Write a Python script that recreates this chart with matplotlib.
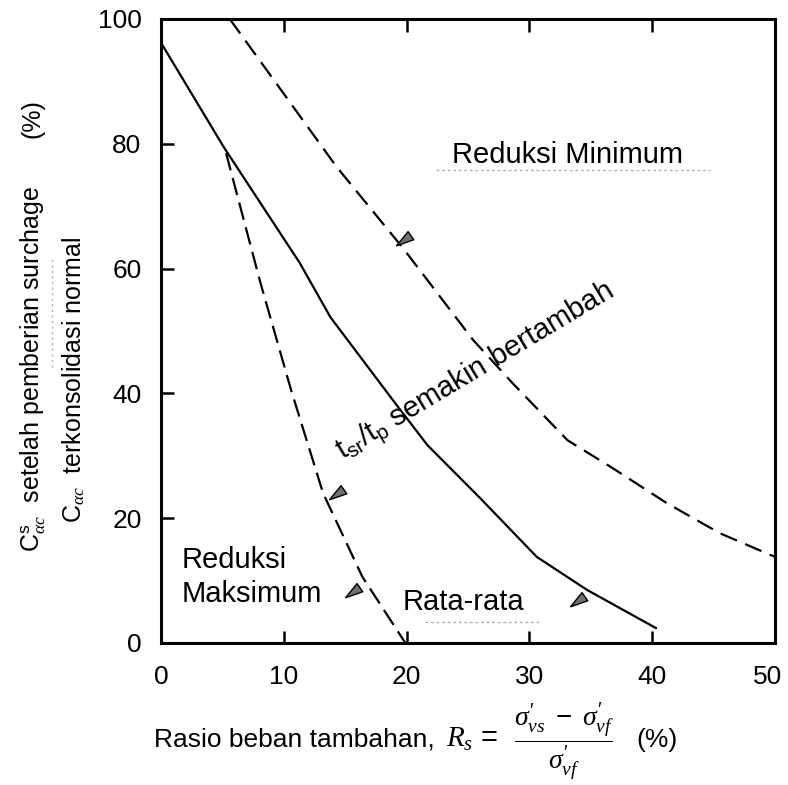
import numpy as np
import matplotlib
matplotlib.use("Agg")
import matplotlib.pyplot as plt
import matplotlib.transforms as mtransforms

plt.rcParams['font.family'] = ['Liberation Sans', 'DejaVu Sans']
plt.rcParams['mathtext.fontset'] = 'custom'
plt.rcParams['mathtext.rm'] = 'Liberation Sans'
plt.rcParams['mathtext.sf'] = 'Liberation Sans'
plt.rcParams['mathtext.it'] = 'Liberation Serif:italic'
plt.rcParams['mathtext.bf'] = 'Liberation Sans:bold'

# ---- data ----
rata_x = [0, 5.1, 11.3, 13.8, 19.2, 21.7, 26.0, 30.6, 34.7, 40.3]
rata_y = [96.2, 79.5, 60.9, 52.2, 38.1, 31.7, 23.2, 13.8, 8.5, 2.4]

maks_x = [5.3, 8.1, 10.6, 13.2, 16.4, 19.9]
maks_y = [78.5, 57.7, 40.5, 24.0, 10.6, 0.0]

min_x = [5.6, 14.3, 19.7, 25.4, 28.6, 33.1, 36.8, 41.2, 45.5, 50.0]
min_y = [100, 76.3, 63.3, 48.6, 41.7, 32.5, 28.0, 22.4, 17.6, 13.8]

arrow_x = [19.9, 14.4, 15.7, 34.0]
arrow_y = [64.8, 24.0, 8.4, 6.9]

xticks = [0, 10, 20, 30, 40, 50]
yticks = [0, 20, 40, 60, 80, 100]

W, H = 788, 785
fig = plt.figure(figsize=(W/100, H/100), dpi=100)
ax = fig.add_axes([161/W, 1-643/H, (775-161)/W, (643-19)/H])

ax.plot(rata_x, rata_y, color='black', lw=1.6, solid_joinstyle='round')
ax.plot(maks_x, maks_y, color='black', lw=1.6, dashes=(8, 3.5))
ax.plot(min_x, min_y, color='black', lw=1.6, dashes=(8, 4))

# arrowheads (pointing down-left)
ang = np.deg2rad(215)
d = np.array([np.cos(ang), np.sin(ang)])
n = np.array([-d[1], d[0]])
apex = d * 1.0
b1 = -d * 0.6 + n * 0.45
b2 = -d * 0.6 - n * 0.45
verts = [tuple(apex), tuple(b1), tuple(b2), tuple(apex)]
ax.scatter(arrow_x, arrow_y, marker=verts, s=170, facecolor='#707070',
           edgecolor='black', linewidths=1.0, zorder=5)

ax.set_xlim(0, 50)
ax.set_ylim(0, 100)
ax.set_xticks(xticks)
ax.set_yticks(yticks)
ax.tick_params(axis='both', direction='in', length=9, width=1.8,
               labelsize=19, top=True, right=False)
ax.tick_params(axis='y', pad=14)
ax.tick_params(axis='x', pad=16)
for s in ax.spines.values():
    s.set_linewidth(2.2)
# shift the last x tick label a little left so it stays inside
lab50 = ax.get_xticklabels()[-1]
lab50.set_transform(lab50.get_transform() +
                    mtransforms.ScaledTranslation(-7/100, 0, fig.dpi_scale_trans))

# labels inside plot
ax.text(23.7, 76.9, 'Reduksi Minimum', fontsize=21, ha='left', va='baseline')
ax.plot([22.4, 44.7], [75.8, 75.8], color='#b0b0b0', lw=1.0, ls=(0, (2, 2)))
ax.text(19.7, 5.3, 'Rata-rata', fontsize=21, ha='left', va='baseline')
ax.plot([21.5, 30.8], [3.4, 3.4], color='#b0b0b0', lw=1.0, ls=(0, (2, 2)))
ax.text(1.7, 12.0, 'Reduksi', fontsize=21, ha='left', va='baseline')
ax.text(1.7, 6.6, 'Maksimum', fontsize=21, ha='left', va='baseline')
ax.text(14.8, 29.3, r't$_{\mathrm{sr}}$/t$_{\mathrm{p}}$ semakin bertambah',
        fontsize=21, rotation=31, rotation_mode='anchor',
        ha='left', va='baseline')

# y label (two lines as a ratio)
fig.text(33/W, 1-369/H, r'C$^{\mathrm{s}}_{\mathit{\alpha c}}$  setelah pemberian surchage',
         rotation=90, fontsize=18, ha='center', va='center')
fig.text(33/W, 1-119/H, '(%)', rotation=90, fontsize=18,
         ha='center', va='center')
fig.text(74/W, 1-380/H, r'C$_{\mathit{\alpha c}}$  terkonsolidasi normal',
         rotation=90, fontsize=18, ha='center', va='center')
fig.add_artist(plt.Line2D([52/W, 52/W], [1-367/H, 1-258/H],
                          color='#b0b0b0', lw=1.0, ls=(0, (1.5, 2.5))))

# x label
fig.text(154/W, 1-747/H, 'Rasio beban tambahan,', fontsize=19,
         ha='left', va='baseline')
fig.text(446/W, 1-747/H, r'$R_s\,=$', fontsize=21, ha='left', va='baseline')
fig.text(564/W, 1-741/H,
         r'$\dfrac{\sigma^{\prime}_{vs}\ -\ \sigma^{\prime}_{vf}}{\sigma^{\prime}_{vf}}$',
         fontsize=20, ha='center', va='center')
fig.text(636/W, 1-747/H, '(%)', fontsize=19, ha='left', va='baseline')

fig.savefig('out.png', dpi=100)
